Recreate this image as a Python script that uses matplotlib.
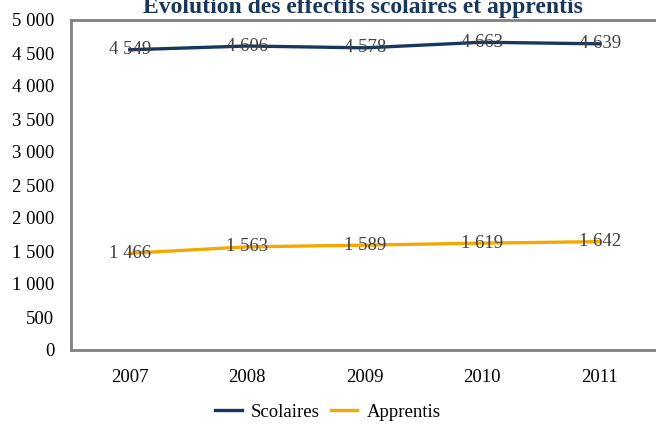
import matplotlib
matplotlib.use("Agg")
import matplotlib.pyplot as plt
import numpy as np

years = ["2007", "2008", "2009", "2010", "2011"]
scolaires = [4549, 4606, 4578, 4663, 4639]
apprentis = [1466, 1563, 1589, 1619, 1642]
y_ticks = [0, 500, 1000, 1500, 2000, 2500, 3000, 3500, 4000, 4500, 5000]

plt.rcParams['font.family'] = ['Liberation Serif', 'DejaVu Serif']


def fmt(v):
    # French thousands separator
    return f"{v:,}".replace(",", " ")


fig = plt.figure(figsize=(6.56, 4.25), dpi=100)
ax = fig.add_axes([71 / 656, 1 - 350 / 425, 587.5 / 656, 330 / 425])

x = np.arange(len(years))
ax.plot(x, scolaires, color="#17375E", lw=2.4, label="Scolaires")
ax.plot(x, apprentis, color="#F5A800", lw=2.4, label="Apprentis")

for xi, v in zip(x, scolaires):
    ax.text(xi, v, fmt(v), ha="center", va="center", fontsize=13.5, color="#404040")
for xi, v in zip(x, apprentis):
    ax.text(xi, v, fmt(v), ha="center", va="center", fontsize=13.5, color="#404040")

ax.set_xlim(-0.5, len(years) - 0.5)
ax.set_ylim(0, 5000)
ax.set_xticks(x)
ax.set_xticklabels(years)
ax.set_yticks(y_ticks)
ax.set_yticklabels([fmt(v) for v in y_ticks])
ax.tick_params(length=0, labelsize=13.5, colors="#000000", pad=12)
ax.tick_params(axis="x", pad=14)
for side in ["left", "top", "bottom", "right"]:
    ax.spines[side].set_color("#808080")
    ax.spines[side].set_linewidth(2)

fig.text(363 / 656, 1 - 13 / 425, "Évolution des effectifs scolaires et apprentis",
         ha="center", va="baseline", fontsize=17, fontweight="bold", color="#17375E")

fig.legend(loc="center", bbox_to_anchor=(0.5, 1 - 412 / 425), ncol=2, frameon=False,
           fontsize=13.5, handlelength=1.4, columnspacing=0.6, handletextpad=0.5)

fig.savefig("out.png", dpi=100)
